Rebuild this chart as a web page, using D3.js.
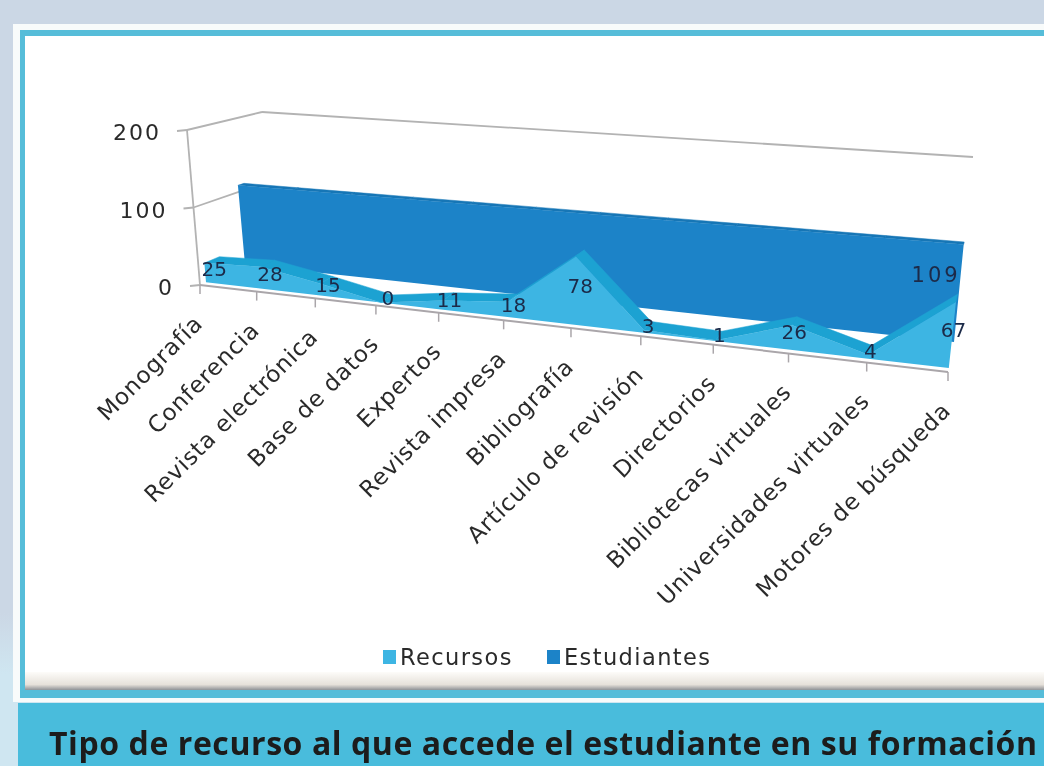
<!DOCTYPE html>
<html>
<head>
<meta charset="utf-8">
<script src="https://cdn.jsdelivr.net/npm/d3@7"></script>
<style>
html, body { margin: 0; padding: 0; background: #cbd7e5; overflow: hidden; }
text { font-family: "DejaVu Sans", sans-serif; }
</style>
</head>
<body>
<svg id="chart" width="1044" height="766"></svg>
<script>
var categories = ["Monografía", "Conferencia", "Revista electrónica", "Base de datos", "Expertos", "Revista impresa", "Bibliografía", "Artículo de revisión", "Directorios", "Bibliotecas virtuales", "Universidades virtuales", "Motores de búsqueda"];
var recursos = [25, 28, 15, 0, 11, 18, 78, 3, 1, 26, 4, 67];
var estudiantes = [109, 109, 109, 109, 109, 109, 109, 109, 109, 109, 109, 109];
var yTicks = [0, 100, 200];
var seriesNames = ["Recursos", "Estudiantes"];
var title = "Tipo de recurso al que accede el estudiante en su formación";

var svg = d3.select("#chart");

var defs = svg.append("defs");
var bg = defs.append("linearGradient").attr("id", "bg").attr("x1", 0).attr("y1", 0).attr("x2", 0).attr("y2", 1);
bg.append("stop").attr("offset", "0.8").attr("stop-color", "#cbd7e5");
bg.append("stop").attr("offset", "0.88").attr("stop-color", "#cfe6f1");
var shadow = defs.append("linearGradient").attr("id", "shadow").attr("x1", 0).attr("y1", 0).attr("x2", 0).attr("y2", 1);
shadow.append("stop").attr("offset", "0").attr("stop-color", "#fdfcf9");
shadow.append("stop").attr("offset", "0.7").attr("stop-color", "#e6e1da");
shadow.append("stop").attr("offset", "1").attr("stop-color", "#8f9296");
// the reference is a soft, upscaled scan
defs.append("filter").attr("id", "soft").append("feGaussianBlur").attr("stdDeviation", 0.55);

var page = svg.append("g").attr("filter", "url(#soft)");

// page frame
page.append("rect").attr("width", 1044).attr("height", 766).attr("fill", "url(#bg)");
page.append("rect").attr("x", 13).attr("y", 24).attr("width", 1031).attr("height", 678).attr("fill", "#f8fbfb");
page.append("rect").attr("x", 20).attr("y", 30).attr("width", 1024).attr("height", 668).attr("fill", "#56bdd9");
page.append("rect").attr("x", 25).attr("y", 36).attr("width", 1019).attr("height", 654).attr("fill", "#ffffff");
page.append("rect").attr("x", 25).attr("y", 672).attr("width", 1019).attr("height", 18).attr("fill", "url(#shadow)");
page.append("rect").attr("x", 18).attr("y", 703).attr("width", 1026).attr("height", 63).attr("fill", "#4abcdc");

// scales
var xScale = d3.scalePoint().domain(categories).range([0, 1]);
var yScale = d3.scaleLinear().domain([0, 200]).range([0, 200]);

function lerp(a, b, w) { return a + (b - a) * w; }

// fake perspective: category, value, depth (0 front, 1 back wall)
function pos(name, value, depth) {
    var t = xScale(name),
        w = 0.82 * t / (1 - 0.18 * t),
        v = yScale(value),
        bx = lerp(200, 948, w),
        by = lerp(285, 372, w),
        dx = lerp(75, 10 - 0.035 * v, w),
        dy = lerp(-34 + 0.08 * v, -50 + 0.175 * v, w);
    return [bx + lerp(-0.065, 0.11, w) * v + depth * dx,
            by - lerp(0.775, 1, w) * v + depth * dy];
}

var line = d3.line();
var first = categories[0], last = categories[categories.length - 1];
var gridColor = "#b3b3b3";

// walls
var walls = page.append("g").attr("fill", "none").attr("stroke", gridColor).attr("stroke-width", 1.8);
yTicks.forEach(function(t) {
    // the 100 line runs behind the blue ribbon, stop it there
    if (t > 0) walls.append("path").attr("d", line([pos(first, t, 0), pos(first, t, t == 200 ? 1 : 0.7)]));
    var p = pos(first, t, 0);
    walls.append("path").attr("d", line([p, [p[0] - 10, p[1] + 1]]));
    page.append("text").attr("x", p[0] - 26).attr("y", p[1] + 10)
        .attr("text-anchor", "end").attr("font-size", 22).attr("letter-spacing", 2)
        .attr("fill", "#2b2b2b").text(t);
});
walls.append("path").attr("d", line([pos(first, 200, 1), pos(last, 200, 1)]));
walls.append("path").attr("d", line([pos(first, 200, 0), pos(first, 0, 0)]));

// one ribbon of the 3d area chart
function ribbon(values, d0, d1, frontColor, topColor) {
    var g = page.append("g");
    d3.pairs(categories.map(function(c, i) { return {c: c, v: values[i]}; })).forEach(function(s) {
        var a = s[0], b = s[1];
        g.append("path").attr("fill", topColor).attr("stroke", topColor).attr("stroke-width", 0.5)
            .attr("d", line([pos(a.c, a.v, d0), pos(b.c, b.v, d0), pos(b.c, b.v, d1), pos(a.c, a.v, d1)]) + "Z");
    });
    var front = categories.map(function(c, i) { return pos(c, values[i], d0); });
    var base = categories.map(function(c) { return pos(c, 0, d0); }).reverse();
    g.append("path").attr("fill", frontColor).attr("d", line(front.concat(base)) + "Z");
}
ribbon(estudiantes, 0.6, 0.68, "#1c83c8", "#1676b6");
ribbon(recursos, 0.08, 0.28, "#3db5e3", "#1ca2d2");

// category axis
var axisG = page.append("g").attr("fill", "none").attr("stroke", "#aaa6aa").attr("stroke-width", 2);
axisG.append("path").attr("d", line([pos(first, 0, 0), pos(last, 0, 0)]));
categories.forEach(function(c) {
    var p = pos(c, 0, 0);
    axisG.append("path").attr("stroke-width", 1.5).attr("d", line([p, [p[0], p[1] + 9]]));
    page.append("text")
        .attr("transform", "translate(" + (p[0] + 4) + "," + (p[1] + 40) + ") rotate(-45)")
        .attr("text-anchor", "end").attr("font-size", 23).attr("letter-spacing", 0.8)
        .attr("fill", "#2b2b2b").text(c);
});

// data labels
var labels = page.append("g").attr("fill", "#1b2a48").attr("font-size", 20).attr("text-anchor", "middle");
categories.forEach(function(c, i) {
    var p = pos(c, recursos[i] / 2, 0.2);
    labels.append("text").attr("x", p[0]).attr("y", p[1] + 7).text(recursos[i]);
});
var p109 = pos(last, estudiantes[11] * 0.69, 0.6);
labels.append("text").attr("x", p109[0]).attr("y", p109[1] + 7).attr("font-size", 21)
    .attr("text-anchor", "end").attr("letter-spacing", 3).text(estudiantes[11]);

// legend
var legend = page.append("g");
var legendX = d3.scaleOrdinal().domain(seriesNames).range([383, 547]);
var legendColor = d3.scaleOrdinal().domain(seriesNames).range(["#3db5e3", "#1c83c8"]);
seriesNames.forEach(function(n) {
    legend.append("rect").attr("x", legendX(n)).attr("y", 650).attr("width", 13).attr("height", 14).attr("fill", legendColor(n));
    legend.append("text").attr("x", legendX(n) + 17).attr("y", 665)
        .attr("font-size", 22.5).attr("letter-spacing", 1.4).attr("fill", "#2b2b2b").text(n);
});

// caption
page.append("text").attr("x", 49).attr("y", 755)
    .style("font-family", "'Open Sans', sans-serif")
    .attr("font-weight", 700).attr("font-size", 32)
    .attr("textLength", 988).attr("lengthAdjust", "spacing")
    .attr("fill", "#1d1d1b").text(title);
</script>
</body>
</html>
